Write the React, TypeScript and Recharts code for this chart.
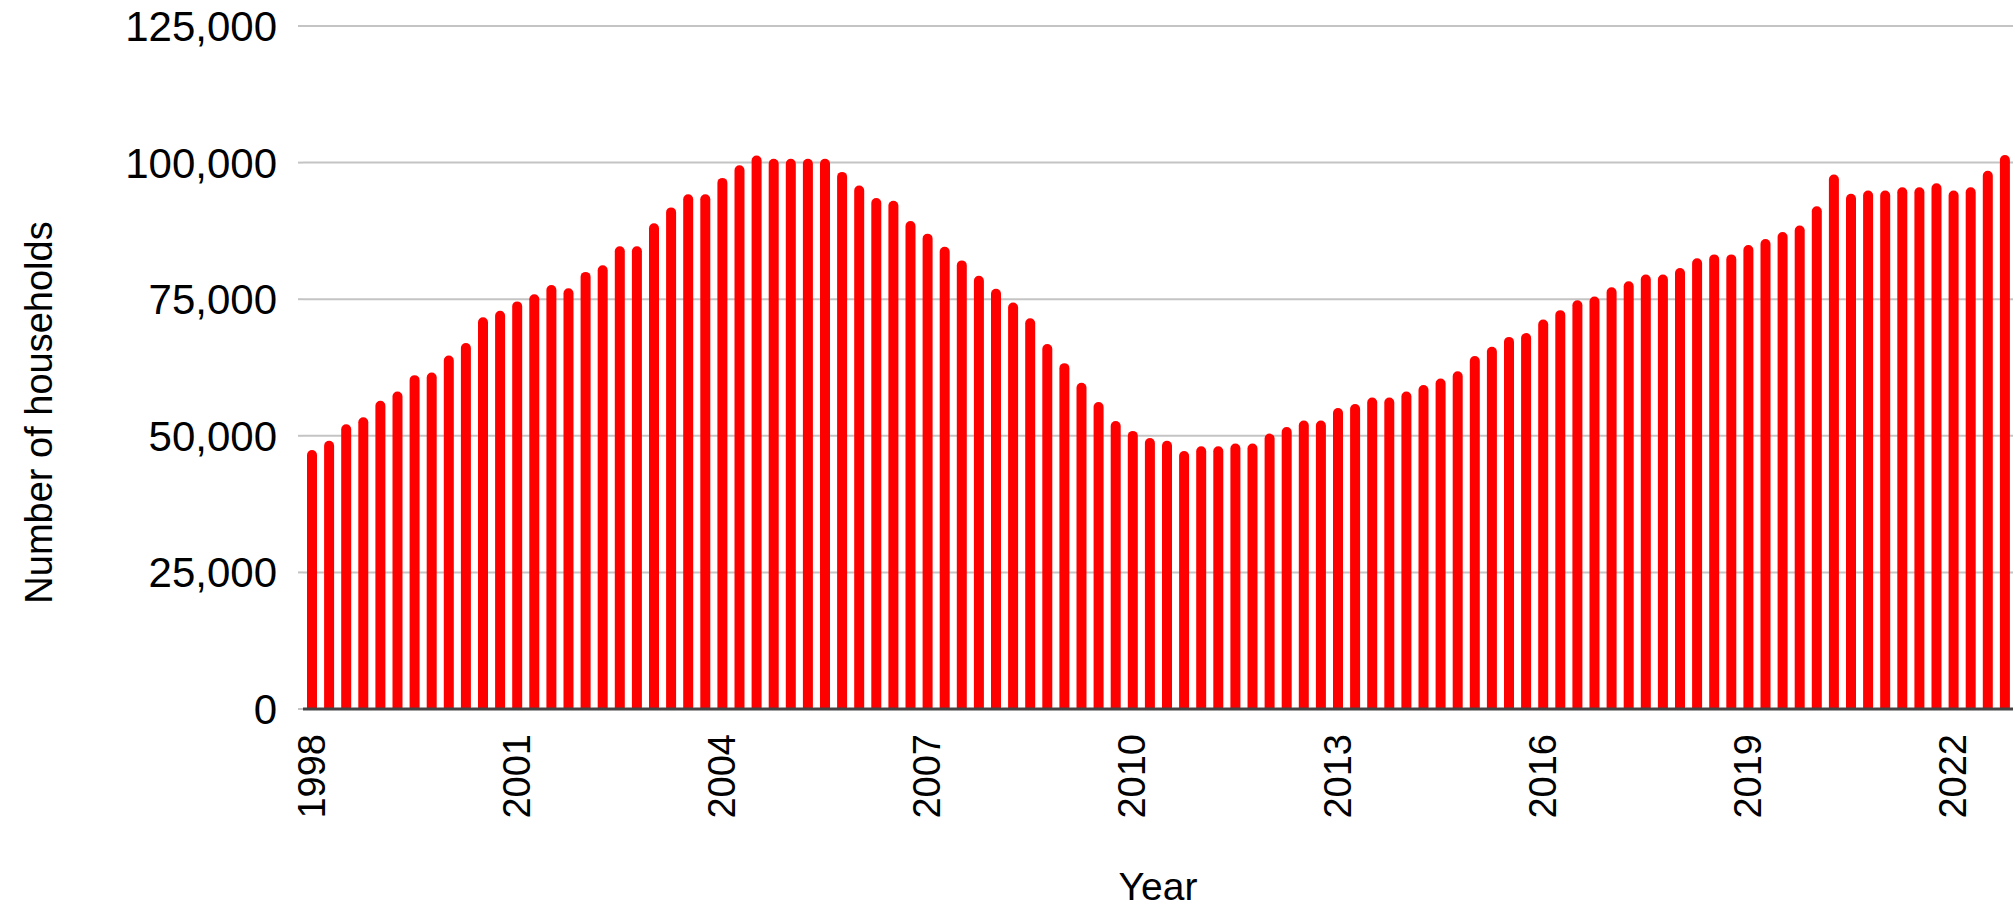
import { BarChart, Bar, XAxis, YAxis, CartesianGrid, Label } from 'recharts'

const FONT = '"Liberation Sans", Arial, sans-serif'

// quarterly counts, 1998 Q1 .. 2022 Q4
const years = [
  1998, 1999, 2000, 2001, 2002, 2003, 2004, 2005, 2006, 2007, 2008, 2009, 2010,
  2011, 2012, 2013, 2014, 2015, 2016, 2017, 2018, 2019, 2020, 2021, 2022,
]

const households = [
  47400, 49100, 52100, 53400,
  56400, 58100, 61100, 61600,
  64700, 67000, 71700, 72900,
  74600, 75900, 77600, 77000,
  80000, 81200, 84700, 84700,
  88900, 91800, 94200, 94200,
  97200, 99500, 101300, 100700,
  100700, 100700, 100700, 98300,
  95800, 93500, 93000, 89300,
  87000, 84600, 82100, 79300,
  76900, 74400, 71500, 66800,
  63300, 59700, 56200, 52700,
  50900, 49600, 49100, 47200,
  48100, 48100, 48600, 48600,
  50400, 51600, 52800, 52800,
  55100, 55800, 57000, 57000,
  58100, 59300, 60500, 61800,
  64600, 66300, 68100, 68800,
  71300, 73000, 74800, 75500,
  77200, 78300, 79500, 79500,
  80700, 82500, 83200, 83200,
  84900, 86000, 87300, 88500,
  92000, 97800, 94300, 94900,
  94900, 95500, 95500, 96200,
  94900, 95500, 98500, 101400,
]

const yTicks = [0, 25000, 50000, 75000, 100000, 125000]

const data = households.map((value, i) => ({
  quarter: `${years[Math.floor(i / 4)]} Q${(i % 4) + 1}`,
  value,
}))

const YearTick = (props: any) => {
  const { x, y, payload } = props
  return (
    <text
      transform={`translate(${x + 13},${y + 17}) rotate(-90)`}
      textAnchor="end"
      fontSize={38}
      fontFamily={FONT}
      fill="#000"
    >
      {String(payload.value).slice(0, 4)}
    </text>
  )
}

const YTitle = (props: any) => {
  const vb = props.viewBox
  const cy = vb.y + vb.height / 2 + 45
  return (
    <text
      transform={`translate(52,${cy}) rotate(-90)`}
      textAnchor="middle"
      fontSize={38}
      fontFamily={FONT}
      fill="#000"
    >
      Number of households
    </text>
  )
}

const XTitle = (props: any) => {
  const vb = props.viewBox
  return (
    <text
      x={vb.x + vb.width / 2}
      y={vb.y + 191}
      textAnchor="middle"
      fontSize={39}
      fontFamily={FONT}
      fill="#000"
    >
      Year
    </text>
  )
}

export default function App() {
  return (
    <div style={{ position: 'absolute', left: 0, top: 0, background: '#fff' }}>
      <BarChart
        width={2015}
        height={910}
        data={data}
        margin={{ top: 26, right: 2, bottom: 0, left: 0 }}
      >
        <CartesianGrid stroke="#c4c4c4" strokeWidth={2} vertical={false} />
        <XAxis
          dataKey="quarter"
          interval={11}
          height={201}
          tick={<YearTick />}
          tickLine={false}
          axisLine={{ stroke: '#444', strokeWidth: 3 }}
        >
          <Label content={<XTitle />} />
        </XAxis>
        <YAxis
          width={303}
          domain={[0, 125000]}
          ticks={yTicks}
          interval={0}
          axisLine={false}
          tickSize={5}
          tickMargin={21}
          tickLine={{ stroke: '#c4c4c4', strokeWidth: 2 }}
          tick={{ fontSize: 42, fill: '#000', fontFamily: FONT }}
          tickFormatter={(v: number) => v.toLocaleString('en-US')}
        >
          <Label content={<YTitle />} />
        </YAxis>
        <Bar
          dataKey="value"
          fill="#ff0000"
          barSize={10}
          radius={[5, 5, 0, 0]}
          isAnimationActive={false}
        />
      </BarChart>
    </div>
  )
}
